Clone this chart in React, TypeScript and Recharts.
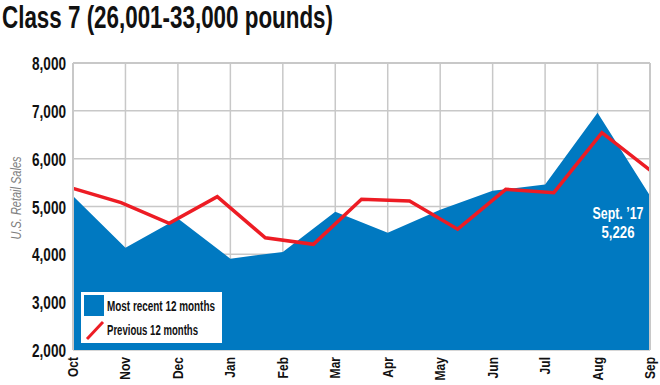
import React from 'react';
import {
  ComposedChart,
  Area,
  Line,
  XAxis,
  YAxis,
  CartesianGrid,
  ReferenceLine,
  LabelList,
} from 'recharts';

// Month labels for the x axis (Oct '16 - Sep '17)
const months = ['Oct', 'Nov', 'Dec', 'Jan', 'Feb', 'Mar', 'Apr', 'May', 'Jun', 'Jul', 'Aug', 'Sep'];

// Most recent 12 months (blue area)
const recent = [5220, 4140, 4750, 3910, 4050, 4890, 4450, 4930, 5330, 5460, 6960, 5226];

// Previous 12 months (red line) - the source plots 13 evenly spaced points across the same width
const previous = [5380, 5080, 4650, 5205, 4345, 4210, 5150, 5115, 4525, 5360, 5290, 6545, 5760];

const yTicks = [2000, 3000, 4000, 5000, 6000, 7000, 8000];

const BLUE = '#0079c1';
const RED = '#ed1c24';
const GRID = '#c8c8c8';
const FONT = "'Liberation Sans', Arial, sans-serif";

const recentData = recent.map((v, i) => ({ i, month: months[i], recent: v }));
const previousData = previous.map((v, i) => ({ i, previous: v }));

const fmt = (n: number) => n.toLocaleString('en-US');

const YTick = (props: any) => {
  const { x, y, payload } = props;
  return (
    <text x={x} y={y} dy={7} textAnchor="end" fontFamily={FONT} fontWeight="bold" fontSize={18}
      fill="#111" textLength={34} lengthAdjust="spacingAndGlyphs">
      {fmt(payload.value)}
    </text>
  );
};

const XTick = (props: any) => {
  const { x, y, payload } = props;
  const ty = y + 7;
  // condensed look: squeeze along the (rotated) text direction
  return (
    <g transform={`translate(${x}, ${ty}) rotate(-90) scale(0.86, 1)`}>
      <text x={0} y={0} dy="0.36em" textAnchor="end" fontFamily={FONT} fontWeight="bold"
        fontSize={14} fill="#111">
        {months[payload.value]}
      </text>
    </g>
  );
};

// "Sept. '17 / 5,226" callout on the last point of the area
const SeptLabel = (props: any) => {
  const { x, y, index, value } = props;
  if (index !== recent.length - 1) return null;
  const cx = x - 32;
  return (
    <g fontFamily={FONT} fontWeight="bold" fontSize={17} fill="#fff" textAnchor="middle">
      <text x={cx} y={y + 23} textLength={51} lengthAdjust="spacingAndGlyphs">Sept. ’17</text>
      <text x={cx} y={y + 42} textLength={33} lengthAdjust="spacingAndGlyphs">{fmt(value)}</text>
    </g>
  );
};

export default function App() {
  return (
    <div style={{ position: 'absolute', left: 0, top: 0, width: 660, height: 385, background: '#fff' }}>
      <ComposedChart width={660} height={385} data={recentData}
        margin={{ top: 63, right: 10, bottom: 0, left: 0 }}>
        <CartesianGrid xAxisId="m" stroke={GRID} strokeWidth={1.5} />
        <XAxis xAxisId="m" dataKey="i" type="number" domain={[0, 11]} ticks={months.map((_, i) => i)}
          interval={0} height={35} tickSize={0} tickMargin={0} axisLine={false} tick={<XTick />} />
        <XAxis xAxisId="p" dataKey="i" type="number" domain={[0, 12]} hide />
        <YAxis domain={[2000, 8000]} ticks={yTicks} width={73} tickSize={0} tickMargin={7}
          axisLine={false} tick={<YTick />} />
        <Area xAxisId="m" type="linear" dataKey="recent" fill={BLUE} fillOpacity={1} stroke="none"
          isAnimationActive={false}>
          <LabelList dataKey="recent" content={<SeptLabel />} />
        </Area>
        <Line xAxisId="p" data={previousData} type="linear" dataKey="previous" stroke={RED}
          strokeWidth={3.5} dot={false} strokeLinejoin="miter" isAnimationActive={false} />
        <ReferenceLine xAxisId="m" x={0} stroke={GRID} strokeWidth={2} />
        <ReferenceLine xAxisId="m" x={11} stroke={GRID} strokeWidth={2} />
        <ReferenceLine xAxisId="m" y={8000} stroke={GRID} strokeWidth={2} />
      </ComposedChart>

      {/* title, axis caption and legend */}
      <svg width={660} height={385} style={{ position: 'absolute', left: 0, top: 0, pointerEvents: 'none' }}>
        <text x={2} y={28} fontFamily={FONT} fontWeight="bold" fontSize={31} fill="#111"
          textLength={331} lengthAdjust="spacingAndGlyphs">
          Class 7 (26,001-33,000 pounds)
        </text>
        <text x={21} y={198} transform="rotate(-90, 21, 198)" textAnchor="middle" fontFamily={FONT}
          fontStyle="italic" fontSize={14} fill="#808080" textLength={83} lengthAdjust="spacingAndGlyphs">
          U.S. Retail Sales
        </text>
        <g>
          <rect x={81} y={292} width={141} height={51} fill="#fff" />
          <rect x={84} y={295} width={20} height={21} fill={BLUE} />
          <line x1={87} y1={339} x2={103} y2={322} stroke={RED} strokeWidth={3} />
          <text x={107} y={311} fontFamily={FONT} fontWeight="bold" fontSize={14} fill="#111"
            textLength={108} lengthAdjust="spacingAndGlyphs">Most recent 12 months</text>
          <text x={107} y={335} fontFamily={FONT} fontWeight="bold" fontSize={14} fill="#111"
            textLength={91} lengthAdjust="spacingAndGlyphs">Previous 12 months</text>
        </g>
      </svg>
    </div>
  );
}
